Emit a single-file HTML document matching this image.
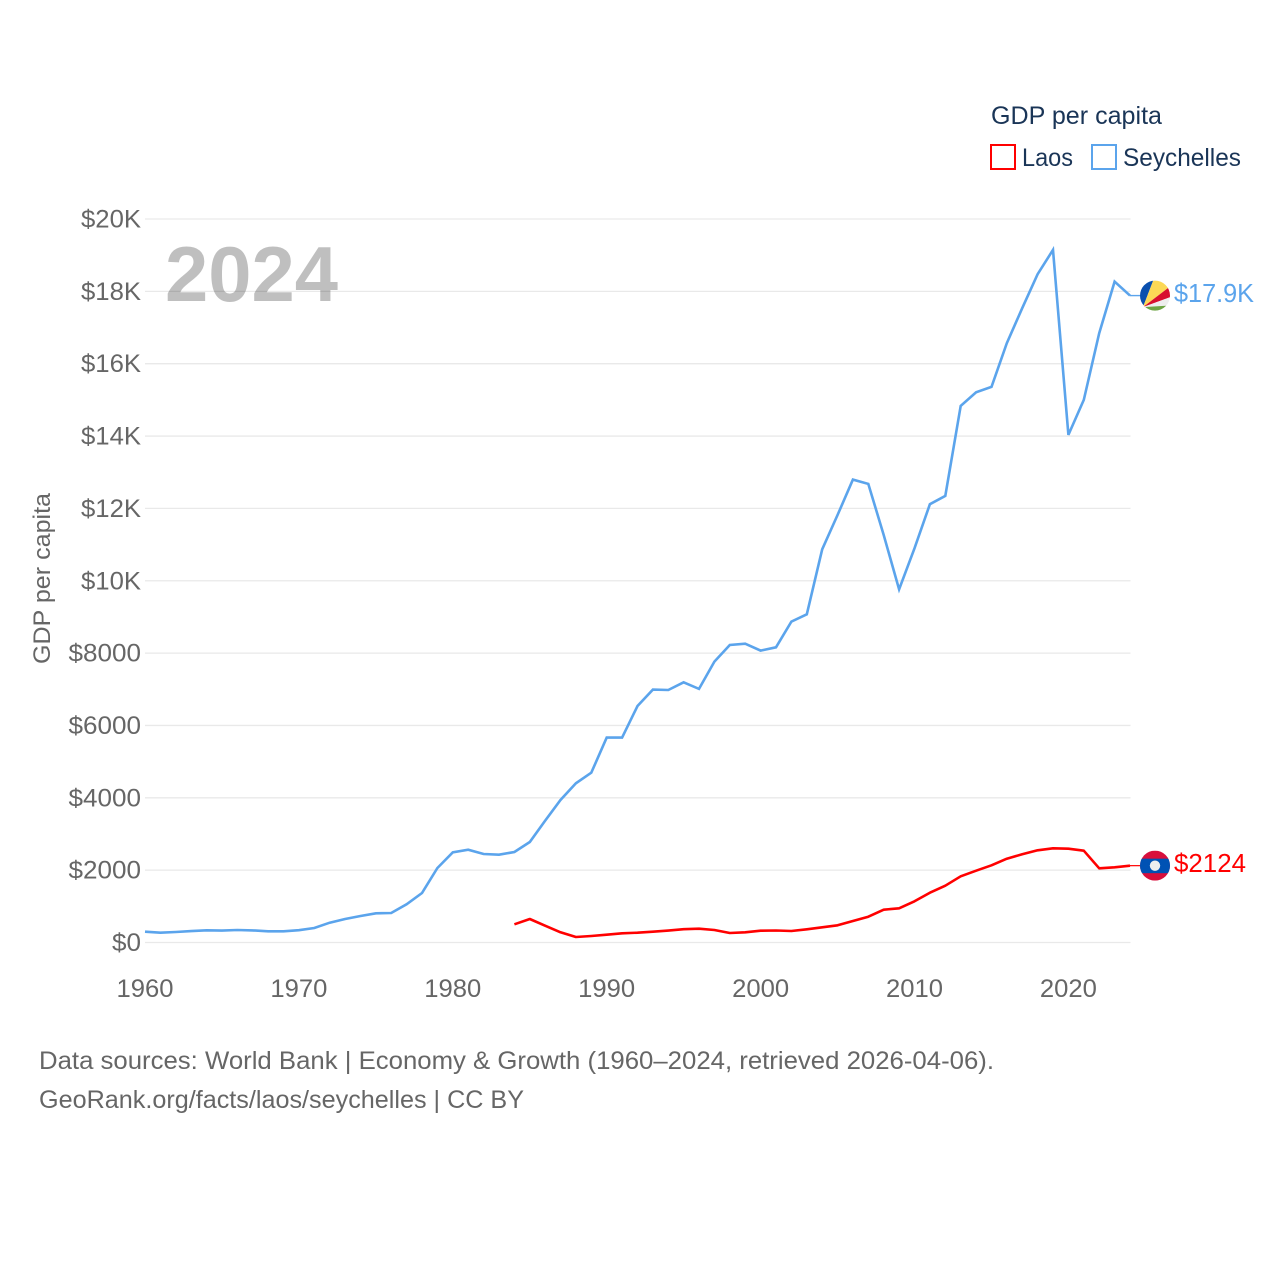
<!DOCTYPE html>
<html lang="en">
<head>
<meta charset="utf-8">
<title>GDP per capita: Laos and Seychelles</title>
<style>
html,body{margin:0;padding:0;background:#fff;}
svg{display:block;font-family:"Liberation Sans",sans-serif;}
</style>
</head>
<body>
<svg id="chart" xmlns="http://www.w3.org/2000/svg" width="1280" height="1280" viewBox="0 0 1280 1280">
  <defs>
    <clipPath id="clip-sc"><circle id="clip-sc-c" cx="1155" cy="296" r="15"/></clipPath>
    <clipPath id="clip-la"><circle id="clip-la-c" cx="1155" cy="865" r="15"/></clipPath>
  </defs>
  <rect x="0" y="0" width="1280" height="1280" fill="#ffffff"/>
  <g id="grid"></g>
  <g id="yticks"></g>
  <g id="xticks"></g>
  <text x="165" y="301" font-size="78" font-weight="700" fill="#000" fill-opacity="0.25" textLength="173" lengthAdjust="spacingAndGlyphs">2024</text>
  <text transform="translate(50,664) rotate(-90)" font-size="24" fill="#666" textLength="171" lengthAdjust="spacingAndGlyphs">GDP per capita</text>
  <g id="series"></g>
  <g id="endmarks"></g>
  <g>
    <text x="991" y="124" font-size="25" fill="#1a3557" textLength="171" lengthAdjust="spacingAndGlyphs">GDP per capita</text>
    <rect x="991" y="145" width="24" height="24" fill="none" stroke="#ff0000" stroke-width="2"/>
    <text x="1022" y="166" font-size="25" fill="#1a3557" textLength="51" lengthAdjust="spacingAndGlyphs">Laos</text>
    <rect x="1092" y="145" width="24" height="24" fill="none" stroke="#5ba4ec" stroke-width="2"/>
    <text x="1123" y="166" font-size="25" fill="#1a3557" textLength="118" lengthAdjust="spacingAndGlyphs">Seychelles</text>
  </g>
  <text x="39" y="1069" font-size="25" fill="#666" textLength="955" lengthAdjust="spacingAndGlyphs">Data sources: World Bank | Economy &amp; Growth (1960–2024, retrieved 2026-04-06).</text>
  <text x="39" y="1108" font-size="25" fill="#666" textLength="485" lengthAdjust="spacingAndGlyphs">GeoRank.org/facts/laos/seychelles | CC BY</text>
</svg>
<script>
const yTickValues = [0, 2000, 4000, 6000, 8000, 10000, 12000, 14000, 16000, 18000, 20000];
const yTickLabels = ["$0", "$2000", "$4000", "$6000", "$8000", "$10K", "$12K", "$14K", "$16K", "$18K", "$20K"];
const xTickYears = [1960, 1970, 1980, 1990, 2000, 2010, 2020];
const xTickLabels = ["1960", "1970", "1980", "1990", "2000", "2010", "2020"];
const seychellesStartYear = 1960;
const seychellesValues = [299, 271, 290, 315, 336, 330, 345, 335, 310, 310, 340, 400, 548, 650, 733, 807, 816, 1056, 1369, 2060, 2494, 2566, 2447, 2428, 2502, 2778, 3367, 3940, 4400, 4695, 5663, 5663, 6539, 6990, 6981, 7193, 7009, 7764, 8225, 8261, 8068, 8161, 8870, 9073, 10870, 11819, 12796, 12676, 11266, 9765, 10898, 12115, 12345, 14833, 15210, 15358, 16566, 17534, 18474, 19146, 14031, 14999, 16843, 18270, 17883];
const laosStartYear = 1984;
const laosValues = [503, 650, 465, 282, 152, 180, 216, 254, 271, 299, 330, 368, 382, 345, 263, 282, 326, 332, 318, 365, 420, 475, 594, 713, 907, 945, 1139, 1377, 1570, 1830, 1985, 2134, 2317, 2438, 2549, 2604, 2593, 2538, 2051, 2079, 2124];
const seychellesEndLabel = "$17.9K";
const laosEndLabel = "$2124";

const NS = "http://www.w3.org/2000/svg";
function xScale(year) { return 145 + (year - 1960) * 15.39; }
function yScale(value) { return 942.5 - value * 0.036175; }
function make(tag, attrs, parent) {
  const el = document.createElementNS(NS, tag);
  for (const k in attrs) el.setAttribute(k, attrs[k]);
  parent.appendChild(el);
  return el;
}
const gridG = document.getElementById("grid");
const yG = document.getElementById("yticks");
const xG = document.getElementById("xticks");
const seriesG = document.getElementById("series");
const endG = document.getElementById("endmarks");

yTickValues.forEach(function (v, i) {
  const line = make("line", { x1: 145, x2: 1130.5, y1: yScale(v), y2: yScale(v), stroke: "#e9e9e9", "stroke-width": 1.3 }, gridG);
  
  
  const label = yTickLabels[i];
  const t = make("text", { x: 141, y: yScale(v) + 8.5, "text-anchor": "end", "font-size": 25, fill: "#666", textLength: label.length * 14.5 + (label.endsWith("K") ? 2 : 0), lengthAdjust: "spacingAndGlyphs" }, yG);
  
  
  t.textContent = label;
});

xTickYears.forEach(function (year, i) {
  const t = make("text", { x: xScale(year), y: 997, "text-anchor": "middle", "font-size": 25, fill: "#666", textLength: 57, lengthAdjust: "spacingAndGlyphs" }, xG);
  
  
  t.textContent = xTickLabels[i];
});

function linePoints(startYear, values) {
  return values.map(function (v, i) { return xScale(startYear + i).toFixed(1) + "," + yScale(v).toFixed(1); }).join(" ");
}

const laosLine = make("polyline", { points: linePoints(laosStartYear, laosValues), fill: "none", stroke: "#ff0000", "stroke-width": 2.6, "stroke-linejoin": "round" }, seriesG);



const seychellesLine = make("polyline", { points: linePoints(seychellesStartYear, seychellesValues), fill: "none", stroke: "#5ba4ec", "stroke-width": 2.6, "stroke-linejoin": "miter" }, seriesG);



const lastYearLaos = laosStartYear + laosValues.length - 1;
const lastYearSey = seychellesStartYear + seychellesValues.length - 1;
const yLaos = yScale(laosValues[laosValues.length - 1]);
const ySey = yScale(seychellesValues[seychellesValues.length - 1]);
const flagX = 1155;

const connSey = make("line", { x1: xScale(lastYearSey), x2: flagX - 15, y1: ySey, y2: ySey, stroke: "#5ba4ec", "stroke-width": 1.4 }, endG);



const connLaos = make("line", { x1: xScale(lastYearLaos), x2: flagX - 15, y1: yLaos, y2: yLaos, stroke: "#ff0000", "stroke-width": 1.2 }, endG);



document.getElementById("clip-sc-c").setAttribute("cy", ySey);
document.getElementById("clip-la-c").setAttribute("cy", yLaos);

/* Seychelles flag: five wedges fan out from the lower-left */
const flagSey = make("g", { "clip-path": "url(#clip-sc)" }, endG);


const ox = flagX - 12, oy = ySey + 11.5;
[
  ["#0a4fae", [[0, 0], [20, -52], [-20, -52], [-20, 0]]],
  ["#fcd856", [[0, 0], [20, -52], [50, -38]]],
  ["#d80f2e", [[0, 0], [50, -38], [51, -18.6]]],
  ["#eeeeee", [[0, 0], [51, -18.6], [43, -2.6]]],
  ["#6da544", [[0, 0], [43, -2.6], [43, 20], [0, 20]]]
].forEach(function (ray) {
  make("polygon", { fill: ray[0], points: ray[1].map(function (p) { return (ox + p[0]) + "," + (oy + p[1]); }).join(" ") }, flagSey);
});

/* Laos flag */
const flagLaos = make("g", { "clip-path": "url(#clip-la)" }, endG);


make("rect", { x: flagX - 15, y: yLaos - 15, width: 30, height: 30, fill: "#d80f3c" }, flagLaos);
make("rect", { x: flagX - 15, y: yLaos - 7, width: 30, height: 14.5, fill: "#0052b4" }, flagLaos);
make("circle", { cx: flagX, cy: yLaos, r: 5.2, fill: "#eeeeee" }, flagLaos);

const labelSey = make("text", { x: 1174, y: ySey + 6.5, "font-size": 26, fill: "#5ba4ec", textLength: 80, lengthAdjust: "spacingAndGlyphs" }, endG);


labelSey.textContent = seychellesEndLabel;

const labelLaos = make("text", { x: 1174, y: yLaos + 6.5, "font-size": 26, fill: "#ff0000", textLength: 72, lengthAdjust: "spacingAndGlyphs" }, endG);


labelLaos.textContent = laosEndLabel;
</script>
</body>
</html>
